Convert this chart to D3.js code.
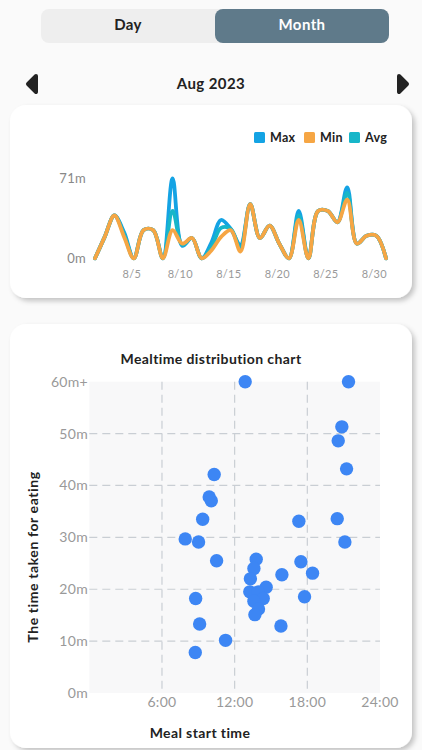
<!DOCTYPE html>
<html><head><meta charset="utf-8">
<script src="https://cdn.jsdelivr.net/npm/d3@7"></script>
<style>
html,body{margin:0;padding:0;background:#fafafa;}
svg{display:block;font-family:Lato,"Noto Sans",sans-serif;}
</style></head>
<body>
<svg id="c" width="422" height="750"></svg>
<script>
// ---- data ----
const tabs = ["Day","Month"];
const monthLabel = "Aug 2023";
const days = d3.range(1,32);
const maxVals = [0,19,38,23,0,25,25,0,71,11,18,0,14,34,26,12,48,18,29,13,0,42,0,42,42,32,63,13,20,20,0];
const minVals = [0,19,38,19,0,25,25,0,25,13,18,0,7,19,25,6,48,18,29,13,0,34,0,42,42,32,52,13,20,20,0];
const avgVals = [0,19,38,21,0,25,25,0,42,12,18,0,10,27,26,9,48,18,29,13,0,38,0,42,42,32,58,13,20,20,0];
const seriesNames = ["Max","Min","Avg"];
const lineTicks = [5,10,15,20,25,30];
const lineYTicks = [0,71];
const mealStart = [12.87,21.4,20.85,20.55,21.24,10.31,9.9,10.07,9.36,17.3,20.47,7.92,9.02,21.1,10.51,13.78,13.59,17.47,15.9,18.43,13.3,14.6,13.25,13.95,14.36,13.59,8.78,17.77,13.97,13.67,9.11,15.82,11.25,8.75];
const mealMinutes = [60,60,51.3,48.6,43.2,42.1,37.8,37.05,33.5,33.1,33.6,29.7,29.1,29.1,25.5,25.8,24.0,25.3,22.8,23.1,22.0,20.4,19.5,19.5,18.2,17.7,18.2,18.55,16.2,15.1,13.3,12.9,10.15,7.8];
const xTickHours = [6,12,18,24];
const xTickLabels = ["6:00","12:00","18:00","24:00"];
const yTickMins = [0,10,20,30,40,50,60];
const yTickLabels = ["0m","10m","20m","30m","40m","50m","60m+"];

const svg = d3.select("#c");
const defs = svg.append("defs");
const f = defs.append("filter").attr("id","sh").attr("x","-10%").attr("y","-10%").attr("width","130%").attr("height","130%");
f.append("feDropShadow").attr("dx",3).attr("dy",3).attr("stdDeviation",2.5).attr("flood-color","#000").attr("flood-opacity",0.22);

// ---- toggle ----
svg.append("rect").attr("x",41).attr("y",9).attr("width",348).attr("height",34).attr("rx",8).attr("fill","#eeeeee");
svg.append("rect").attr("x",215).attr("y",9).attr("width",174).attr("height",34).attr("rx",8).attr("fill","#5f7a8a");
svg.append("text").attr("x",128).attr("y",30).attr("text-anchor","middle").attr("font-size",15).attr("font-weight",700).attr("letter-spacing",0.4).attr("fill","#222").text(tabs[0]);
svg.append("text").attr("x",302).attr("y",30).attr("text-anchor","middle").attr("font-size",15).attr("font-weight",700).attr("letter-spacing",0.4).attr("fill","#fff").text(tabs[1]);

svg.append("text").attr("x",211).attr("y",89).attr("text-anchor","middle").attr("font-size",15).attr("font-weight",700).attr("letter-spacing",0.4).attr("fill","#222").text(monthLabel);
svg.append("path").attr("d","M36,76 L28,84 L36,92 Z").attr("fill","#222").attr("stroke","#222").attr("stroke-width",4).attr("stroke-linejoin","round");
svg.append("path").attr("d","M399,76 L407,84 L399,92 Z").attr("fill","#222").attr("stroke","#222").attr("stroke-width",4).attr("stroke-linejoin","round");

// ---- card 1 ----
svg.append("rect").attr("x",10).attr("y",105).attr("width",402).attr("height",193).attr("rx",16).attr("fill","#fff").attr("filter","url(#sh)");

const x1 = d3.scaleLinear().domain([1,31]).range([95,386]);
const y1 = d3.scaleLinear().domain([0,71]).range([258.3,178.3]);
const colors = {Max:"#14a3e4",Min:"#f6a644",Avg:"#17b6c9"};
const lineGen = d3.line().x((d,i)=>x1(days[i])).y(d=>y1(d)).curve(d3.curveCatmullRom.alpha(0.5));
const g1 = svg.append("g");
[["Max",maxVals],["Avg",avgVals],["Min",minVals]].forEach(([n,v])=>{
  g1.append("path").datum(v).attr("d",lineGen).attr("fill","none").attr("stroke",colors[n]).attr("stroke-width",3.8).attr("stroke-linecap","round").attr("stroke-linejoin","round");
});
g1.selectAll(".yt").data(lineYTicks).join("text").attr("x",86).attr("y",d=>y1(d)+5).attr("text-anchor","end").attr("font-size",13).attr("letter-spacing",0.3).attr("fill","#888").text(d=>d+"m");
g1.selectAll(".xt").data(lineTicks).join("text").attr("x",d=>x1(d)-2).attr("y",278).attr("text-anchor","middle").attr("font-size",11).attr("letter-spacing",0.3).attr("fill","#999").text(d=>"8/"+d);
// legend
const legX = [254,304,349];
seriesNames.forEach((n,i)=>{
  g1.append("rect").attr("x",legX[i]).attr("y",132).attr("width",11).attr("height",11).attr("rx",1.5).attr("fill",colors[n]);
  g1.append("text").attr("x",legX[i]+16).attr("y",142).attr("font-size",12.5).attr("font-weight",700).attr("letter-spacing",0.3).attr("fill","#222").text(n);
});

// ---- card 2 ----
svg.append("rect").attr("x",10).attr("y",324).attr("width",402).attr("height",424).attr("rx",16).attr("fill","#fff").attr("filter","url(#sh)");
const x2 = d3.scaleLinear().domain([0,24]).range([89.3,380]);
const y2 = d3.scaleLinear().domain([0,60]).range([693,381.7]);
const g2 = svg.append("g");
g2.append("rect").attr("x",x2(0)).attr("y",y2(60)).attr("width",x2(24)-x2(0)).attr("height",y2(0)-y2(60)).attr("fill","#f8f8f9");
g2.selectAll(".hg").data([10,20,30,40,50]).join("line").attr("x1",x2(0)).attr("x2",x2(24)).attr("y1",d=>y2(d)).attr("y2",d=>y2(d)).attr("stroke","#c9ced4").attr("stroke-width",1.2).attr("stroke-dasharray","8,5");
g2.selectAll(".vg").data([6,12,18]).join("line").attr("x1",d=>x2(d)).attr("x2",d=>x2(d)).attr("y1",y2(60)).attr("y2",y2(0)).attr("stroke","#c9ced4").attr("stroke-width",1.2).attr("stroke-dasharray","8,5");
g2.selectAll(".yl").data(yTickMins).join("text").attr("x",88).attr("y",d=>y2(d)+5).attr("text-anchor","end").attr("font-size",14).attr("letter-spacing",0.3).attr("fill","#999").text((d,i)=>yTickLabels[i]);
g2.selectAll(".xl").data(xTickHours).join("text").attr("x",d=>x2(d)).attr("y",707).attr("text-anchor","middle").attr("font-size",14).attr("letter-spacing",0.3).attr("fill","#999").text((d,i)=>xTickLabels[i]);
g2.selectAll(".dot").data(mealStart).join("circle").attr("cx",d=>x2(d)).attr("cy",(d,i)=>y2(mealMinutes[i])).attr("r",6.7).attr("fill","#3d86f4");
g2.append("text").attr("x",211).attr("y",364).attr("text-anchor","middle").attr("font-size",14).attr("font-weight",700).attr("letter-spacing",0.4).attr("fill","#222").text("Mealtime distribution chart");
g2.append("text").attr("x",200).attr("y",738).attr("text-anchor","middle").attr("font-size",14).attr("font-weight",700).attr("letter-spacing",0.4).attr("fill","#222").text("Meal start time");
g2.append("text").attr("transform","translate(38,557) rotate(-90)").attr("text-anchor","middle").attr("font-size",14).attr("font-weight",700).attr("letter-spacing",0.6).attr("fill","#222").text("The time taken for eating");
</script>
</body></html>
